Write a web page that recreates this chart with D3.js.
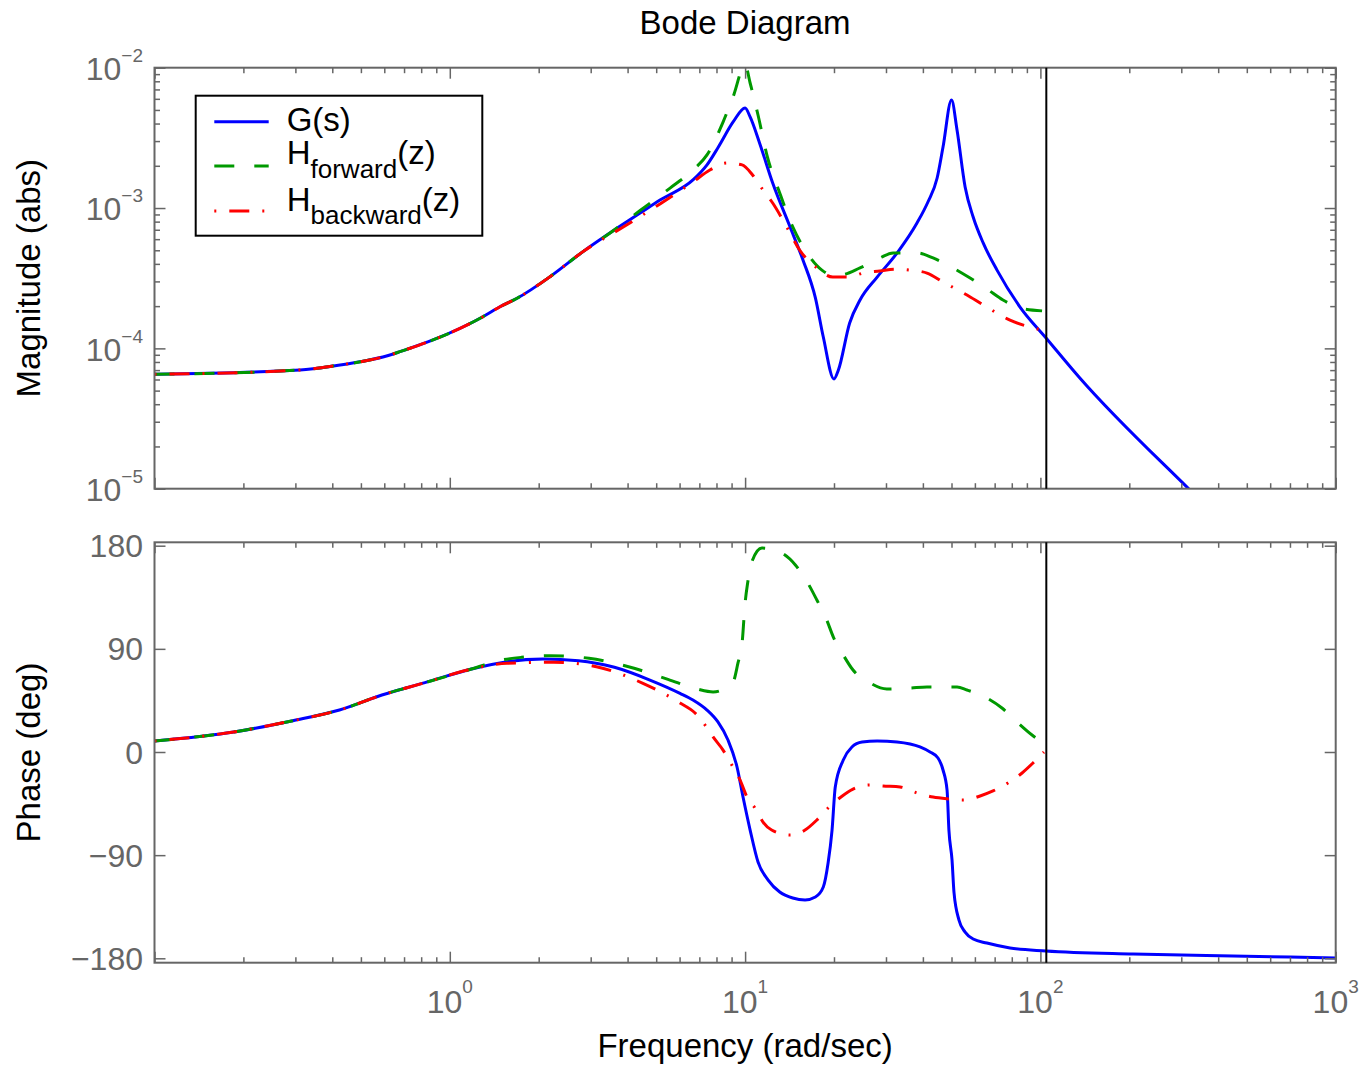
<!DOCTYPE html>
<html><head><meta charset="utf-8">
<script src="https://cdn.jsdelivr.net/npm/d3@7"></script>
<style>
body{margin:0;background:#fff}
text{font-family:"Liberation Sans",Arial,Helvetica,sans-serif}
</style>
</head><body>
<svg id="chart" width="1363" height="1068"></svg>
<script>
// ---------- data ----------
const titleText = "Bode Diagram";
const xTickExponents = [0, 1, 2, 3];
const magTickExponents = [-2, -3, -4, -5];
const phaseTicks = [180, 90, 0, -90, -180];
const nyquistFreq = 104.72;
const seriesNames = ["G(s)", "forward", "backward"];

// G(s) magnitude
const gMagFreq = [0.1, 0.311, 0.402, 0.643, 0.678, 0.877, 1.295, 1.479, 1.69, 2.184, 2.825, 3.68, 4.41, 5.15, 6.66, 7.43, 8.11, 9.12, 10.0, 10.4, 11.2, 12.4, 14.2, 15.7, 17.3, 18.4, 20.0, 20.7, 22.6, 24.5, 28.0, 32.7, 38.2, 41.6, 44.7, 46.8, 50.0, 52.2, 55.6, 59.2, 64.0, 71.3, 85.3, 104.5, 136, 316, 1000];
const gMag = [6.53e-5, 7.01e-5, 7.48e-5, 9.12e-5, 9.47e-5, 1.148e-4, 1.681e-4, 1.98e-4, 2.275e-4, 3.24e-4, 4.89e-4, 7.17e-4, 9.2e-4, 1.14e-3, 1.585e-3, 2.03e-3, 2.71e-3, 4.12e-3, 5.16e-3, 4.46e-3, 2.90e-3, 1.507e-3, 7.33e-4, 4.27e-4, 2.29e-4, 1.205e-4, 6.05e-5, 7.01e-5, 1.517e-4, 2.21e-4, 3.22e-4, 4.78e-4, 7.82e-4, 1.104e-3, 1.637e-3, 2.72e-3, 5.89e-3, 3.60e-3, 1.413e-3, 8.63e-4, 5.64e-4, 3.61e-4, 1.97e-4, 1.186e-4, 6.15e-5, 1.01e-5, 1.0e-6];

// H_forward(z) magnitude
const hfMagFreq = [0.1, 0.311, 0.402, 0.643, 0.678, 0.877, 1.295, 1.479, 1.69, 2.184, 2.825, 3.30, 4.41, 5.57, 6.66, 7.43, 8.42, 9.10, 10.0, 10.4, 11.06, 11.9, 13.1, 14.5, 16.2, 18.2, 19.8, 20.9, 24.5, 28.6, 31.7, 38.2, 43.3, 50.6, 57.8, 65.9, 74.7, 85.3, 101.3];
const hfMag = [6.53e-5, 7.01e-5, 7.48e-5, 9.12e-5, 9.47e-5, 1.148e-4, 1.681e-4, 1.98e-4, 2.275e-4, 3.24e-4, 4.89e-4, 6.11e-4, 9.6e-4, 1.387e-3, 1.866e-3, 2.39e-3, 4.10e-3, 6.18e-3, 1.05e-2, 7.78e-3, 4.60e-3, 2.31e-3, 1.28e-3, 7.33e-4, 4.79e-4, 3.61e-4, 3.33e-4, 3.33e-4, 3.74e-4, 4.41e-4, 4.79e-4, 4.79e-4, 4.41e-4, 3.74e-4, 3.17e-4, 2.65e-4, 2.21e-4, 1.94e-4, 1.85e-4];

// H_backward(z) magnitude
const hbMagFreq = [0.1, 0.311, 0.402, 0.643, 0.678, 0.877, 1.295, 1.479, 1.69, 2.184, 2.825, 3.98, 5.15, 6.66, 7.60, 8.68, 9.77, 10.6, 11.5, 12.4, 13.9, 15.3, 17.5, 19.8, 22.4, 25.1, 28.6, 32.2, 36.2, 41.3, 46.8, 56.4, 64.0, 78.9, 101.3];
const hbMag = [6.53e-5, 7.01e-5, 7.48e-5, 9.12e-5, 9.47e-5, 1.148e-4, 1.681e-4, 1.98e-4, 2.275e-4, 3.24e-4, 4.89e-4, 7.6e-4, 1.07e-3, 1.535e-3, 1.866e-3, 2.094e-3, 2.03e-3, 1.718e-3, 1.343e-3, 1.086e-3, 7.21e-4, 5.02e-4, 3.74e-4, 3.22e-4, 3.22e-4, 3.44e-4, 3.56e-4, 3.67e-4, 3.61e-4, 3.44e-4, 2.97e-4, 2.40e-4, 2.04e-4, 1.59e-4, 1.35e-4];

// G(s) phase (deg)
const gPhFreq = [0.1, 0.188, 0.294, 0.423, 0.589, 0.824, 1.184, 1.563, 2.067, 2.73, 3.61, 4.76, 6.02, 6.66, 7.43, 8.09, 8.75, 9.39, 9.84, 10.4, 11.06, 11.97, 13.1, 14.5, 15.96, 17.3, 18.4, 19.1, 19.7, 20.2, 21.5, 23.0, 24.9, 28.0, 32.7, 39.1, 42.3, 45.0, 46.8, 48.3, 49.0, 50.2, 51.0, 53.0, 55.6, 59.2, 65.9, 78.9, 104.5, 206, 449, 1000];
const gPhase = [9.6, 17.7, 27.3, 36.6, 49.7, 60.5, 72.4, 78.8, 81.1, 79.7, 73.9, 62.8, 51.2, 45.4, 36.6, 26.2, 10.5, -13.1, -39.3, -68.1, -96.0, -111.7, -122.2, -127.4, -129.1, -126.5, -117.8, -96.9, -68.1, -30.5, -7.0, 4.4, 8.7, 9.6, 8.7, 4.4, 0.0, -5.2, -15.7, -33.2, -68.1, -94.2, -123.0, -146.6, -157.1, -163.2, -166.7, -171.0, -173.6, -176.3, -178.0, -179.7];

// H_forward(z) phase
const hfPhFreq = [0.1, 0.188, 0.294, 0.423, 0.589, 0.824, 1.184, 1.50, 1.75, 2.184, 2.96, 4.03, 5.48, 6.87, 7.79, 9.10, 9.46, 9.77, 10.0, 10.2, 10.6, 11.4, 13.3, 14.8, 16.3, 17.5, 18.9, 19.9, 21.5, 23.2, 26.5, 30.2, 36.2, 41.3, 52.2, 56.4, 65.9, 74.1, 83.3, 93.7, 101.3];
const hfPhase = [9.6, 17.7, 27.3, 36.6, 49.7, 60.5, 72.4, 80.3, 82.6, 84.0, 81.8, 74.4, 63.4, 55.0, 52.4, 61.1, 77.7, 95.1, 130.0, 147.5, 167.5, 178.0, 173.6, 163.2, 147.5, 132.6, 115.2, 100.3, 84.6, 71.5, 60.2, 55.0, 55.8, 56.7, 56.7, 54.1, 47.1, 38.4, 26.2, 14.8, 8.7];

// H_backward(z) phase
const hbPhFreq = [0.1, 0.188, 0.294, 0.423, 0.589, 0.824, 1.184, 1.563, 2.246, 3.136, 4.51, 6.02, 6.77, 7.31, 7.79, 8.42, 9.10, 9.61, 10.15, 10.8, 11.5, 12.3, 14.2, 15.96, 17.5, 19.1, 20.9, 23.2, 26.5, 29.3, 33.5, 38.2, 43.3, 49.4, 54.7, 62.5, 69.1, 77.6, 86.7, 94.4, 102.8];
const hbPhase = [9.6, 17.7, 27.3, 36.6, 49.7, 60.5, 72.4, 77.4, 78.3, 74.4, 59.9, 42.8, 34.0, 23.6, 13.1, 1.7, -13.1, -24.4, -39.3, -48.9, -61.1, -68.1, -72.4, -68.1, -59.3, -48.9, -40.1, -32.3, -28.8, -29.7, -30.5, -35.8, -39.3, -41.0, -41.9, -38.4, -34.0, -27.1, -18.3, -9.6, 0.0];

// ---------- layout / style ----------
const L = 154.5, R = 1335.7;
const magTop = 67.7, magBot = 488.7;
const phTop = 542.3, phBot = 962.7;
const axisColor = "#666666";
const FONT = 32, LABEL_FONT = 33, SUP = 19;
const colors = {g: "#0000ff", hf: "#009900", hb: "#ff0000"};
const dashes = {g: null, hf: "20,20", hb: "2,13,20,13"};

const svg = d3.select("#chart");
const x = d3.scaleLog().domain([0.1, 1000]).range([L, R]);
const yMag = d3.scaleLog().domain([1e-5, 1e-2]).range([magBot, magTop]);
const yPh = d3.scaleLinear().domain([-183.84, 182.97]).range([phBot, phTop]);

const zip = (a, b) => a.map((v, i) => [v, b[i]]);

// clip paths
const defs = svg.append("defs");
defs.append("clipPath").attr("id", "clipMag").append("rect")
  .attr("x", L).attr("y", magTop).attr("width", R - L).attr("height", magBot - magTop);
defs.append("clipPath").attr("id", "clipPh").append("rect")
  .attr("x", L).attr("y", phTop).attr("width", R - L).attr("height", phBot - phTop);

// minor tick values
const xMinor = [], magMinor = [];
for (let e = -1; e < 3; e++) for (let m = 2; m <= 9; m++) xMinor.push(m * Math.pow(10, e));
for (let e = -5; e < -2; e++) for (let m = 2; m <= 9; m++) magMinor.push(m * Math.pow(10, e));
const xMajor = [-1].concat(xTickExponents).map(e => Math.pow(10, e));
const magMajor = magTickExponents.map(e => Math.pow(10, e));

function drawTicks(top, bot, yScale, yMajor, yMinorVals) {
  const g = svg.append("g");
  const styl = sel => { sel.select(".domain").remove(); sel.selectAll("line").attr("stroke", axisColor).attr("stroke-width", 1.5); sel.selectAll("text").remove(); };
  const mk = (axisFn, scale, vals, size, tx, ty) => {
    g.append("g").attr("transform", `translate(${tx},${ty})`)
      .call(axisFn(scale).tickValues(vals).tickSize(-size).tickFormat("")).call(styl);
  };
  mk(d3.axisBottom, x, xMajor, 11, 0, bot);
  mk(d3.axisBottom, x, xMinor, 5.5, 0, bot);
  mk(d3.axisTop, x, xMajor, 11, 0, top);
  mk(d3.axisTop, x, xMinor, 5.5, 0, top);
  mk(d3.axisLeft, yScale, yMajor, 11, L, 0);
  mk(d3.axisRight, yScale, yMajor, 11, R, 0);
  if (yMinorVals) {
    mk(d3.axisLeft, yScale, yMinorVals, 5.5, L, 0);
    mk(d3.axisRight, yScale, yMinorVals, 5.5, R, 0);
  }
  g.append("rect").attr("x", L).attr("y", top).attr("width", R - L).attr("height", bot - top)
    .attr("fill", "none").attr("stroke", axisColor).attr("stroke-width", 2);
}

function drawSeries(clipId, yScale, data, key) {
  const line = d3.line().x(d => x(d[0])).y(d => yScale(d[1])).curve(d3.curveMonotoneX);
  const p = svg.append("path").attr("clip-path", `url(#${clipId})`)
    .attr("d", line(data)).attr("fill", "none").attr("stroke", colors[key])
    .attr("stroke-width", 3).attr("stroke-linejoin", "round");
  if (dashes[key]) p.attr("stroke-dasharray", dashes[key]);
}

// ---- magnitude panel ----
drawSeries("clipMag", yMag, zip(gMagFreq, gMag), "g");
drawSeries("clipMag", yMag, zip(hfMagFreq, hfMag), "hf");
drawSeries("clipMag", yMag, zip(hbMagFreq, hbMag), "hb");
drawTicks(magTop, magBot, yMag, magMajor, magMinor);

// ---- phase panel ----
drawSeries("clipPh", yPh, zip(gPhFreq, gPhase), "g");
drawSeries("clipPh", yPh, zip(hfPhFreq, hfPhase), "hf");
drawSeries("clipPh", yPh, zip(hbPhFreq, hbPhase), "hb");
drawTicks(phTop, phBot, yPh, phaseTicks, null);

// Nyquist lines
[[magTop, magBot], [phTop, phBot]].forEach(([t, b]) => {
  svg.append("line").attr("x1", x(nyquistFreq)).attr("x2", x(nyquistFreq))
    .attr("y1", t).attr("y2", b).attr("stroke", "#000").attr("stroke-width", 2);
});

// tick labels
const minus = v => String(v).replace("-", "\u2212");
magTickExponents.forEach(e => {
  const t = svg.append("text").attr("x", 143).attr("y", yMag(Math.pow(10, e)) + 12.3)
    .attr("text-anchor", "end").attr("fill", axisColor).attr("font-size", FONT);
  t.append("tspan").text("10");
  t.append("tspan").attr("dy", -18).attr("font-size", SUP).text(minus(e));
});
phaseTicks.forEach(v => {
  svg.append("text").attr("x", 143).attr("y", yPh(v) + 11.5)
    .attr("text-anchor", "end").attr("fill", axisColor).attr("font-size", FONT).text(minus(v));
});
xTickExponents.forEach(e => {
  const t = svg.append("text").attr("x", x(Math.pow(10, e))).attr("y", 1013)
    .attr("text-anchor", "middle").attr("fill", axisColor).attr("font-size", FONT);
  t.append("tspan").text("10");
  t.append("tspan").attr("dy", -20).attr("font-size", SUP).text(minus(e));
});

// titles / axis labels
svg.append("text").attr("x", (L + R) / 2).attr("y", 34.3).attr("text-anchor", "middle")
  .attr("font-size", LABEL_FONT).attr("fill", "#000").text(titleText);
svg.append("text").attr("x", (L + R) / 2).attr("y", 1057).attr("text-anchor", "middle")
  .attr("font-size", LABEL_FONT).attr("fill", "#000").text("Frequency (rad/sec)");
svg.append("text").attr("transform", `translate(40,${(magTop + magBot) / 2}) rotate(-90)`)
  .attr("text-anchor", "middle").attr("font-size", LABEL_FONT).attr("fill", "#000").text("Magnitude (abs)");
svg.append("text").attr("transform", `translate(40,${(phTop + phBot) / 2}) rotate(-90)`)
  .attr("text-anchor", "middle").attr("font-size", LABEL_FONT).attr("fill", "#000").text("Phase (deg)");

// legend
const lg = svg.append("g");
lg.append("rect").attr("x", 195.7).attr("y", 95.7).attr("width", 286.6).attr("height", 140)
  .attr("fill", "#fff").attr("stroke", "#000").attr("stroke-width", 2);
const legendRows = [
  {key: "g", ly: 121.7, ty: 131, main: "G(s)", sub: null},
  {key: "hf", ly: 166, ty: 164.3, main: "H", sub: seriesNames[1]},
  {key: "hb", ly: 211, ty: 211, main: "H", sub: seriesNames[2]}
];
legendRows.forEach(r => {
  const ln = lg.append("line").attr("x1", 214.3).attr("x2", 268.7).attr("y1", r.ly).attr("y2", r.ly)
    .attr("stroke", colors[r.key]).attr("stroke-width", 3);
  if (dashes[r.key]) ln.attr("stroke-dasharray", dashes[r.key]);
  const t = lg.append("text").attr("x", 286.7).attr("y", r.ty).attr("font-size", LABEL_FONT).attr("fill", "#000");
  t.append("tspan").text(r.main);
  if (r.sub) {
    t.append("tspan").attr("dy", 13.4).attr("font-size", 26).text(r.sub);
    t.append("tspan").attr("dy", -13.4).text("(z)");
  }
});
</script>
</body></html>
